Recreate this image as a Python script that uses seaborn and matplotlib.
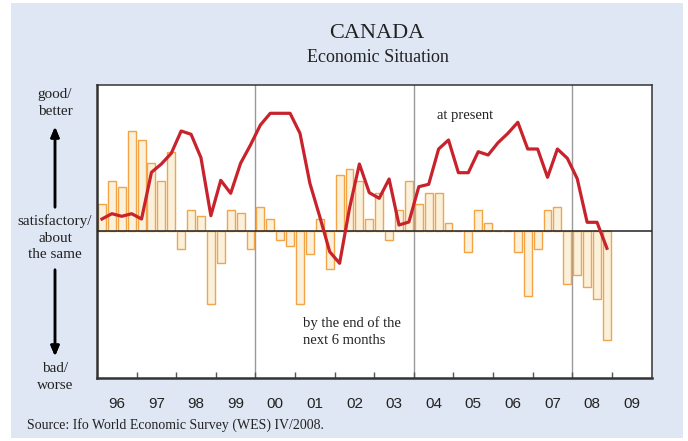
import numpy as np
import pandas as pd
import seaborn as sns
import matplotlib.pyplot as plt
from matplotlib.patches import Rectangle
from matplotlib.ticker import FixedLocator, NullFormatter, FixedFormatter

# quarterly balances, 1996 Q1 .. 2008 Q4
first_year = 1996
expectations = [  # bars: by the end of the next 6 months
    26.7, 50, 44, 100,
    91, 67.7, 50, 79,
    -18, 20.7, 15, -73,
    -32, 20.7, 17.7, -18,
    23.7, 11.7, -9, -14.7,
    -73, -23, 11.7, -38,
    55.7, 61.7, 50, 11.7,
    38.3, -9, 20.7, 50,
    26.7, 37.7, 37.7, 8.3,
    0, -20.7, 20.7, 8.3,
    0, 0, -20.7, -64.7,
    -18, 20.7, 23.7, -53,
    -44.3, -56, -68, -108.7,
]
present = [  # line: at present
    12, 17.3, 14.7, 17.3,
    12, 58.7, 67, 77.7,
    100, 96.7, 73.3, 15.3,
    50.7, 37.7, 67.7, 86,
    106, 117.7, 117.7, 117.7,
    97.7, 47.7, 14.3, -20.7,
    -32.3, 22.7, 67, 38.3,
    32.7, 52, 6, 9,
    44.3, 46.7, 82, 91,
    58.3, 58.3, 79.3, 76,
    88.3, 97.7, 108.7, 82,
    82, 53.7, 82, 72.7,
    52.3, 8.7, 8.7, -17.3,
]
year_labels = ["96", "97", "98", "99", "00", "01", "02", "03",
               "04", "05", "06", "07", "08", "09"]

W, H = 688, 441
BG = "#DFE7F4"


def fx(x):
    return x / W


def fy(y):
    return 1 - y / H


df = pd.DataFrame({
    "pos": [first_year + (i + 0.5) / 4 for i in range(len(present))],
    "expectations": expectations,
    "present": present,
})

fig = plt.figure(figsize=(W / 100, H / 100), dpi=100, facecolor="white")
fig.patches.append(Rectangle((fx(11), fy(438)), fx(683) - fx(11), fy(3) - fy(438),
                             transform=fig.transFigure, facecolor=BG,
                             edgecolor="none", zorder=-10))

ax = fig.add_axes([fx(97), fy(377.5), fx(651.5) - fx(97), fy(84.5) - fy(377.5)])
ax.set_facecolor("white")

sns.barplot(data=df, x="pos", y="expectations", native_scale=True, width=0.8,
            color="#FAF1DC", edgecolor="#F2A446", linewidth=1.0, ax=ax,
            errorbar=None, saturation=1, zorder=2)
for p in ax.patches:
    p.set_facecolor("#FAF1DC")
sns.lineplot(data=df, x="pos", y="present", color="#C8232C", linewidth=2.3,
             ax=ax, zorder=4)

ax.set_xlim(1996, 2010)
ax.set_ylim(-146.5, 146.5)
ax.axhline(0, color="#222222", lw=1.1, zorder=3)
for yr in (2000, 2004, 2008):
    ax.axvline(yr, color="#9a9a9a", lw=1.0, zorder=1)

ax.xaxis.set_major_locator(FixedLocator(range(1997, 2010)))
ax.xaxis.set_major_formatter(NullFormatter())
ax.xaxis.set_minor_locator(FixedLocator([1996.5 + k for k in range(14)]))
ax.xaxis.set_minor_formatter(FixedFormatter(year_labels))
ax.tick_params(axis="x", which="major", direction="in", length=4, width=1,
               color="#555555")
ax.tick_params(axis="x", which="minor", length=0, pad=14, labelsize=11,
               labelcolor="#222222")
for lab in ax.get_xticklabels(minor=True):
    lab.set_family("Liberation Sans")
ax.set_yticks([])
ax.set_xlabel("")
ax.set_ylabel("")
for side in ("top", "right"):
    ax.spines[side].set_color("#333333")
    ax.spines[side].set_linewidth(1.1)
for side in ("left", "bottom"):
    ax.spines[side].set_color("#333333")
    ax.spines[side].set_linewidth(1.8)

serif = "Liberation Serif"
fig.text(fx(377), fy(34), "CANADA", ha="center", va="center", family=serif,
         fontsize=16, color="#222222")
fig.text(fx(378), fy(58), "Economic Situation", ha="center", va="center",
         family=serif, fontsize=13, color="#222222")

side_font = dict(ha="center", va="center", family=serif, fontsize=11,
                 linespacing=1.35, color="#222222")
fig.text(fx(55), fy(103), "good/\nbetter", **side_font)
fig.text(fx(55), fy(238), "satisfactory/\nabout\nthe same", **side_font)
fig.text(fx(55), fy(377), "bad/\nworse", **side_font)
arrow = dict(arrowstyle="-|>,head_length=0.6,head_width=0.25", color="black", lw=1.8)
fig.add_artist(plt.annotate("", xy=(fx(55), fy(124)), xytext=(fx(55), fy(210)),
                            xycoords="figure fraction", arrowprops=arrow))
fig.add_artist(plt.annotate("", xy=(fx(55), fy(359)), xytext=(fx(55), fy(267)),
                            xycoords="figure fraction", arrowprops=arrow))

fig.text(fx(437), fy(115), "at present", ha="left", va="center", family=serif,
         fontsize=10.5, color="#222222")
fig.text(fx(303), fy(332), "by the end of the\nnext 6 months", ha="left",
         va="center", family=serif, fontsize=10.5, linespacing=1.4, color="#222222")

fig.text(fx(27), fy(425), "Source: Ifo World Economic Survey (WES) IV/2008.",
         ha="left", va="center", family=serif, fontsize=10, color="#222222")

fig.savefig("out.png", dpi=100)
plt.close(fig)
